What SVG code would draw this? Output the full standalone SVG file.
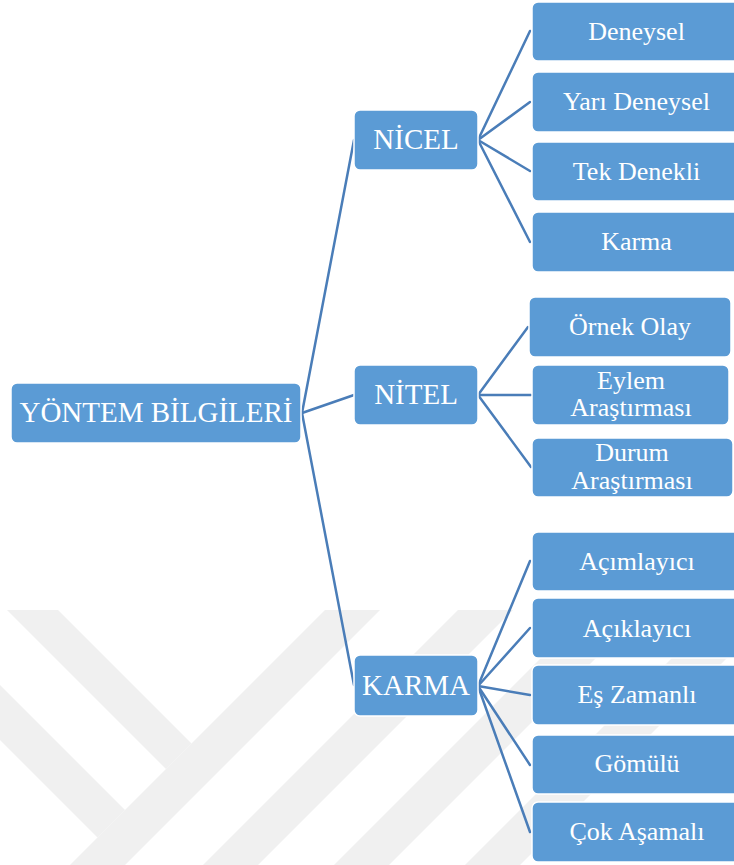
<svg xmlns="http://www.w3.org/2000/svg" width="734" height="865" viewBox="0 0 734 865">
<defs>
<style>
.bg{fill:#ffffff}
.wm{fill:#f0f0f0}
.box{fill:#5b9bd5;stroke:#ffffff;stroke-width:1.5}
.t{font-family:"Liberation Serif","Times New Roman",serif;fill:#ffffff;text-anchor:middle}
.big{font-size:29px}
.leaf{font-size:26px}
.conn line{stroke:#4a7db8;stroke-width:2.5;stroke-linecap:round}
</style>
</defs>
<rect class="bg" x="0" y="0" width="734" height="865"/>
<g id="watermark">
<polygon class="wm" points="7,610 58,610 191.5,743.5 166,769"/>
<polygon class="wm" points="325,610 380,610 125,865 70,865"/>
<polygon class="wm" points="0,685 125,810 97.5,837.5 0,740"/>
<polygon class="wm" points="458,610 513,610 258,865 203,865"/>
<polygon class="wm" points="589,610 644,610 389,865 334,865"/>
<polygon class="wm" points="720,610 775,610 520,865 465,865"/>
</g>
<g id="connectors" class="conn">
<line x1="302" y1="413" x2="354" y2="140"/>
<line x1="302" y1="413" x2="354" y2="395"/>
<line x1="302" y1="413" x2="354" y2="685"/>
<line x1="478" y1="140" x2="530" y2="31"/>
<line x1="478" y1="140" x2="530" y2="102"/>
<line x1="478" y1="140" x2="530" y2="171"/>
<line x1="478" y1="140" x2="530" y2="242"/>
<line x1="478" y1="395" x2="528" y2="327"/>
<line x1="478" y1="395" x2="531" y2="395"/>
<line x1="478" y1="395" x2="531" y2="467"/>
<line x1="478" y1="686" x2="530" y2="561"/>
<line x1="478" y1="686" x2="530" y2="628"/>
<line x1="478" y1="686" x2="530" y2="695"/>
<line x1="478" y1="686" x2="530" y2="765"/>
<line x1="478" y1="686" x2="530" y2="832"/>
</g>
<g id="root"><rect class="box" x="11" y="383" width="290" height="60" rx="6"/><text class="t big" x="156" y="422">YÖNTEM BİLGİLERİ</text></g>
<g id="nicel"><rect class="box" x="354" y="110" width="124" height="60" rx="6"/><text class="t big" x="416" y="149">NİCEL</text></g>
<g id="nitel"><rect class="box" x="354" y="365" width="124" height="60" rx="6"/><text class="t big" x="416" y="404">NİTEL</text></g>
<g id="karma"><rect class="box" x="354" y="655" width="124" height="61" rx="6"/><text class="t big" x="416" y="695">KARMA</text></g>
<g id="deneysel"><rect class="box" x="532" y="2" width="210" height="59" rx="6"/><text class="t leaf" x="636.5" y="40">Deneysel</text></g>
<g id="yari-deneysel"><rect class="box" x="532" y="72" width="210" height="60" rx="6"/><text class="t leaf" x="636.5" y="110">Yarı Deneysel</text></g>
<g id="tek-denekli"><rect class="box" x="532" y="142" width="210" height="59" rx="6"/><text class="t leaf" x="636.5" y="180">Tek Denekli</text></g>
<g id="karma-nicel"><rect class="box" x="532" y="212" width="210" height="60" rx="6"/><text class="t leaf" x="636.5" y="250">Karma</text></g>
<g id="ornek-olay"><rect class="box" x="529" y="297" width="202" height="60" rx="6"/><text class="t leaf" x="630" y="335">Örnek Olay</text></g>
<g id="eylem"><rect class="box" x="532" y="365" width="197" height="60" rx="6"/><text class="t leaf" x="631" y="389">Eylem</text><text class="t leaf" x="631" y="416">Araştırması</text></g>
<g id="durum"><rect class="box" x="532" y="438" width="201" height="59" rx="6"/><text class="t leaf" x="632" y="461">Durum</text><text class="t leaf" x="632" y="488.5">Araştırması</text></g>
<g id="acimlayici"><rect class="box" x="532" y="532" width="210" height="59" rx="6"/><text class="t leaf" x="637" y="570">Açımlayıcı</text></g>
<g id="aciklayici"><rect class="box" x="532" y="598" width="210" height="60" rx="6"/><text class="t leaf" x="637" y="637">Açıklayıcı</text></g>
<g id="es-zamanli"><rect class="box" x="532" y="665" width="210" height="60" rx="6"/><text class="t leaf" x="637" y="703">Eş Zamanlı</text></g>
<g id="gomulu"><rect class="box" x="532" y="735" width="210" height="59" rx="6"/><text class="t leaf" x="637" y="772">Gömülü</text></g>
<g id="cok-asamali"><rect class="box" x="532" y="802" width="210" height="60" rx="6"/><text class="t leaf" x="637" y="840">Çok Aşamalı</text></g>
</svg>
